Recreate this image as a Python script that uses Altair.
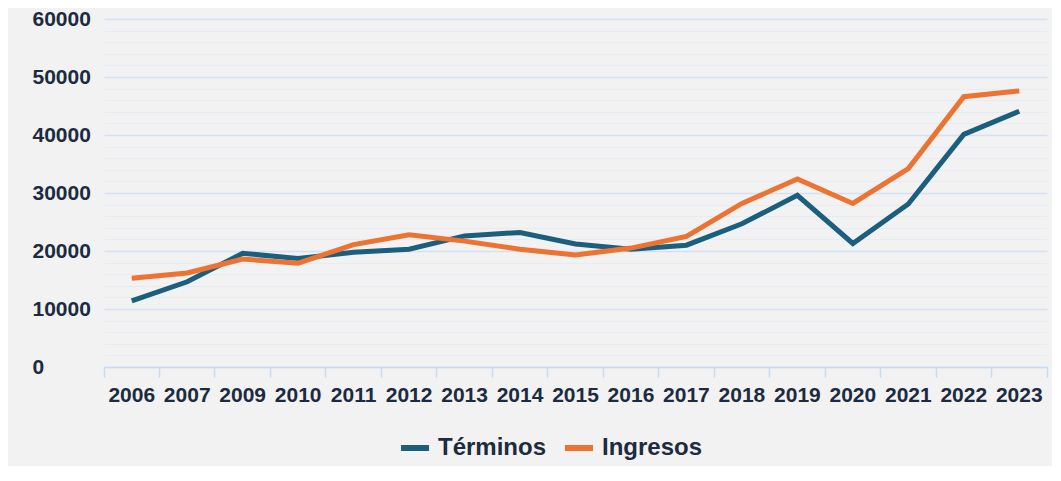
import altair as alt
import pandas as pd

years = ["2006", "2007", "2009", "2010", "2011", "2012", "2013", "2014", "2015",
         "2016", "2017", "2018", "2019", "2020", "2021", "2022", "2023"]
terminos = [11400, 14700, 19600, 18700, 19800, 20300, 22600, 23200, 21200,
            20300, 21000, 24700, 29600, 21300, 28100, 40100, 44100]
ingresos = [15300, 16200, 18600, 17900, 21100, 22800, 21700, 20300, 19300,
            20500, 22500, 28200, 32400, 28200, 34200, 46600, 47600]
series = ["Términos", "Ingresos"]
colors = ["#1b5e7e", "#ec7332"]
y_ticks = list(range(0, 60001, 2000))

rows = []
for name, vals in zip(series, [terminos, ingresos]):
    for yr, v in zip(years, vals):
        rows.append({"Año": yr, "Serie": name, "Valor": v})
df = pd.DataFrame(rows)

text_color = "#1c2b3f"
font = "Liberation Sans"

chart = alt.Chart(df).mark_line(strokeWidth=5).encode(
    x=alt.X("Año:O", sort=years,
            scale=alt.Scale(type="band", paddingInner=0, paddingOuter=0, domain=years),
            axis=alt.Axis(title=None, labelAngle=0, labelFontSize=21, labelFontWeight="bold",
                          labelColor=text_color, labelFont=font, labelPadding=7,
                          domainColor="#c9dbee", domainWidth=1.5,
                          tickColor="#c9dbee", tickWidth=1.5, tickSize=10,
                          bandPosition=1, tickExtra=True, grid=False)),
    y=alt.Y("Valor:Q", scale=alt.Scale(domain=[0, 60000], nice=False),
            axis=alt.Axis(title=None, values=y_ticks, labelOverlap=False,
                          labelExpr="datum.value % 10000 === 0 ? datum.label : ''",
                          format="d", labelFontSize=21, labelFontWeight="bold",
                          labelColor=text_color, labelFont=font, labelAlign="left",
                          labelPadding=72, ticks=False, tickSize=0, domain=False,
                          grid=True,
                          gridColor={"condition": {"test": "datum.value % 10000 === 0",
                                                   "value": "#d3e2f2"},
                                     "value": "#e7ecf2"},
                          gridWidth={"condition": {"test": "datum.value % 10000 === 0",
                                                   "value": 1.5},
                                     "value": 1})),
    color=alt.Color("Serie:N", sort=series,
                    scale=alt.Scale(domain=series, range=colors),
                    legend=alt.Legend(title=None, orient="none", direction="horizontal",
                                      legendX=294, legendY=412, padding=0,
                                      symbolType="stroke", symbolSize=784,
                                      symbolStrokeWidth=6, labelFontSize=24,
                                      labelFontWeight="bold", labelColor=text_color,
                                      labelFont=font, labelOffset=6, columnPadding=6)),
    detail="Serie:N",
).properties(
    width=943,
    height=348,
    padding={"left": 96, "top": 11, "right": 5, "bottom": 99},
    autosize=alt.AutoSizeParams(type="none"),
    background="#f2f2f2",
).configure_view(stroke=None)

chart.save("out.html", embed_options={"renderer": "svg", "actions": False})
